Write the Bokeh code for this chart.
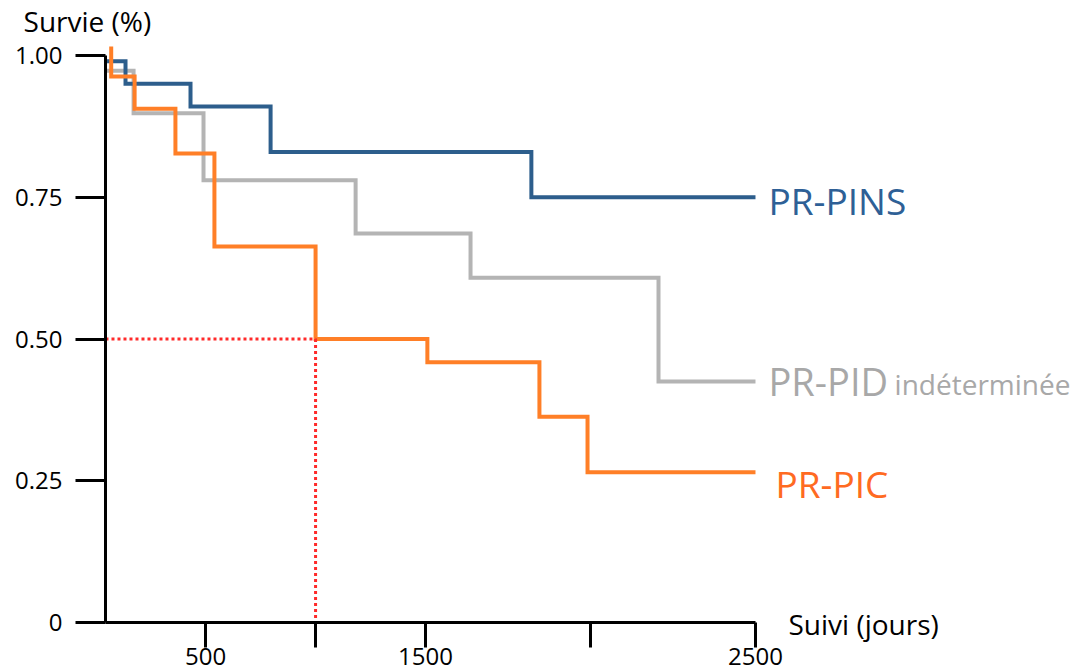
from bokeh.plotting import figure
from bokeh.models import Range1d, FixedTicker, Label
from bokeh.embed import file_html
from bokeh.resources import INLINE

# ---- data (days, survival probability) ----
pins_start = 0
pins_drops = [77, 327, 635, 1638]
pins_levels = [0.99, 0.95, 0.91, 0.83, 0.75]

pid_start = 0
pid_drops = [108, 377, 962, 1404, 2127]
pid_levels = [0.973, 0.898, 0.780, 0.686, 0.608, 0.425]

pic_start = 22
pic_drops = [22, 112, 269, 419, 808, 1238, 1669, 1854]
pic_levels = [1.016, 0.963, 0.906, 0.827, 0.663, 0.50, 0.459, 0.363, 0.265]

end_day = 2500
median_day = 808
median_surv = 0.5

x_ticks = [385, 808, 1231, 1865, 2500]
x_tick_labels = ["500", "", "1500", "", "2500"]
y_ticks = [0, 0.25, 0.5, 0.75, 1.0]
y_tick_labels = ["0", "0.25", "0.50", "0.75", "1.00"]

series_names = ["PR-PINS", "PR-PID", "PR-PIC"]
FONT = "Open Sans"


def step_path(start, drops, levels, end):
    xs = [start]
    ys = [levels[0]]
    for t, prev, nxt in zip(drops, levels[:-1], levels[1:]):
        xs += [t, t]
        ys += [prev, nxt]
    xs.append(end)
    ys.append(levels[-1])
    return xs, ys


p = figure(width=1077, height=671, output_backend="svg", toolbar_location=None,
           x_range=Range1d(-403.8, 3738.5), y_range=Range1d(-0.0864, 1.0970),
           min_border_left=0, min_border_right=0, min_border_top=0,
           min_border_bottom=0)
p.outline_line_color = None
p.xgrid.visible = False
p.ygrid.visible = False
p.background_fill_color = "white"
p.border_fill_color = "white"

for ax in (p.xaxis[0], p.yaxis[0]):
    ax.fixed_location = 0
    ax.axis_line_width = 3
    ax.axis_line_color = "black"
    ax.major_tick_line_width = 3
    ax.major_tick_line_color = "black"
    ax.major_tick_in = 0
    ax.minor_tick_out = 0
    ax.minor_tick_in = 0
    ax.major_label_text_font = FONT
    ax.major_label_text_font_size = "24px"
    ax.major_label_text_color = "black"

xa = p.xaxis[0]
xa.bounds = (0, end_day)
xa.ticker = FixedTicker(ticks=x_ticks)
xa.major_label_overrides = {t: l for t, l in zip(x_ticks, x_tick_labels)}
xa.major_tick_out = 25
xa.major_label_standoff = 0

ya = p.yaxis[0]
ya.bounds = (0, 1)
ya.ticker = FixedTicker(ticks=y_ticks)
ya.major_label_overrides = {t: l for t, l in zip(y_ticks, y_tick_labels)}
ya.major_tick_out = 30
ya.major_label_standoff = 13

# curves
gx, gy = step_path(pid_start, pid_drops, pid_levels, end_day)
p.line(gx, gy, line_width=4, line_color="#B4B4B4", line_join="miter")
bx, by = step_path(pins_start, pins_drops, pins_levels, end_day)
p.line(bx, by, line_width=4, line_color="#2D5E8C", line_join="miter")
ox, oy = step_path(pic_start, pic_drops, pic_levels, end_day)
p.line(ox, oy, line_width=4, line_color="#FF7F27", line_join="miter")

# median guide
p.line([0, median_day, median_day], [median_surv, median_surv, 0],
       line_width=3, line_color="#FF2A2A", line_dash="3 3")

# texts
p.add_layout(Label(x=2550, y=0.7445, text=series_names[0], text_font=FONT,
                   text_font_size="37px", text_color="#2E6096",
                   text_baseline="alphabetic"))
p.add_layout(Label(x=2550, y=0.4268, text=series_names[1], text_font=FONT,
                   text_font_size="38px", text_color="#A8A8A8",
                   text_baseline="alphabetic"))
p.add_layout(Label(x=3035, y=0.4203, text="indéterminée", text_font=FONT,
                   text_font_size="28px", text_color="#A8A8A8",
                   text_baseline="alphabetic"))
p.add_layout(Label(x=2577, y=0.2452, text=series_names[2], text_font=FONT,
                   text_font_size="37px", text_color="#FF6A22",
                   text_baseline="alphabetic"))
p.add_layout(Label(x=2627, y=-0.0026, text="Suivi (jours)", text_font=FONT,
                   text_font_size="28px", text_color="black",
                   text_baseline="alphabetic"))
p.add_layout(Label(x=-315, y=1.0609, text="Survie (%)", text_font=FONT,
                   text_font_size="28px", text_color="black",
                   text_baseline="alphabetic"))

open("out.html", "w").write(file_html(p, INLINE))
